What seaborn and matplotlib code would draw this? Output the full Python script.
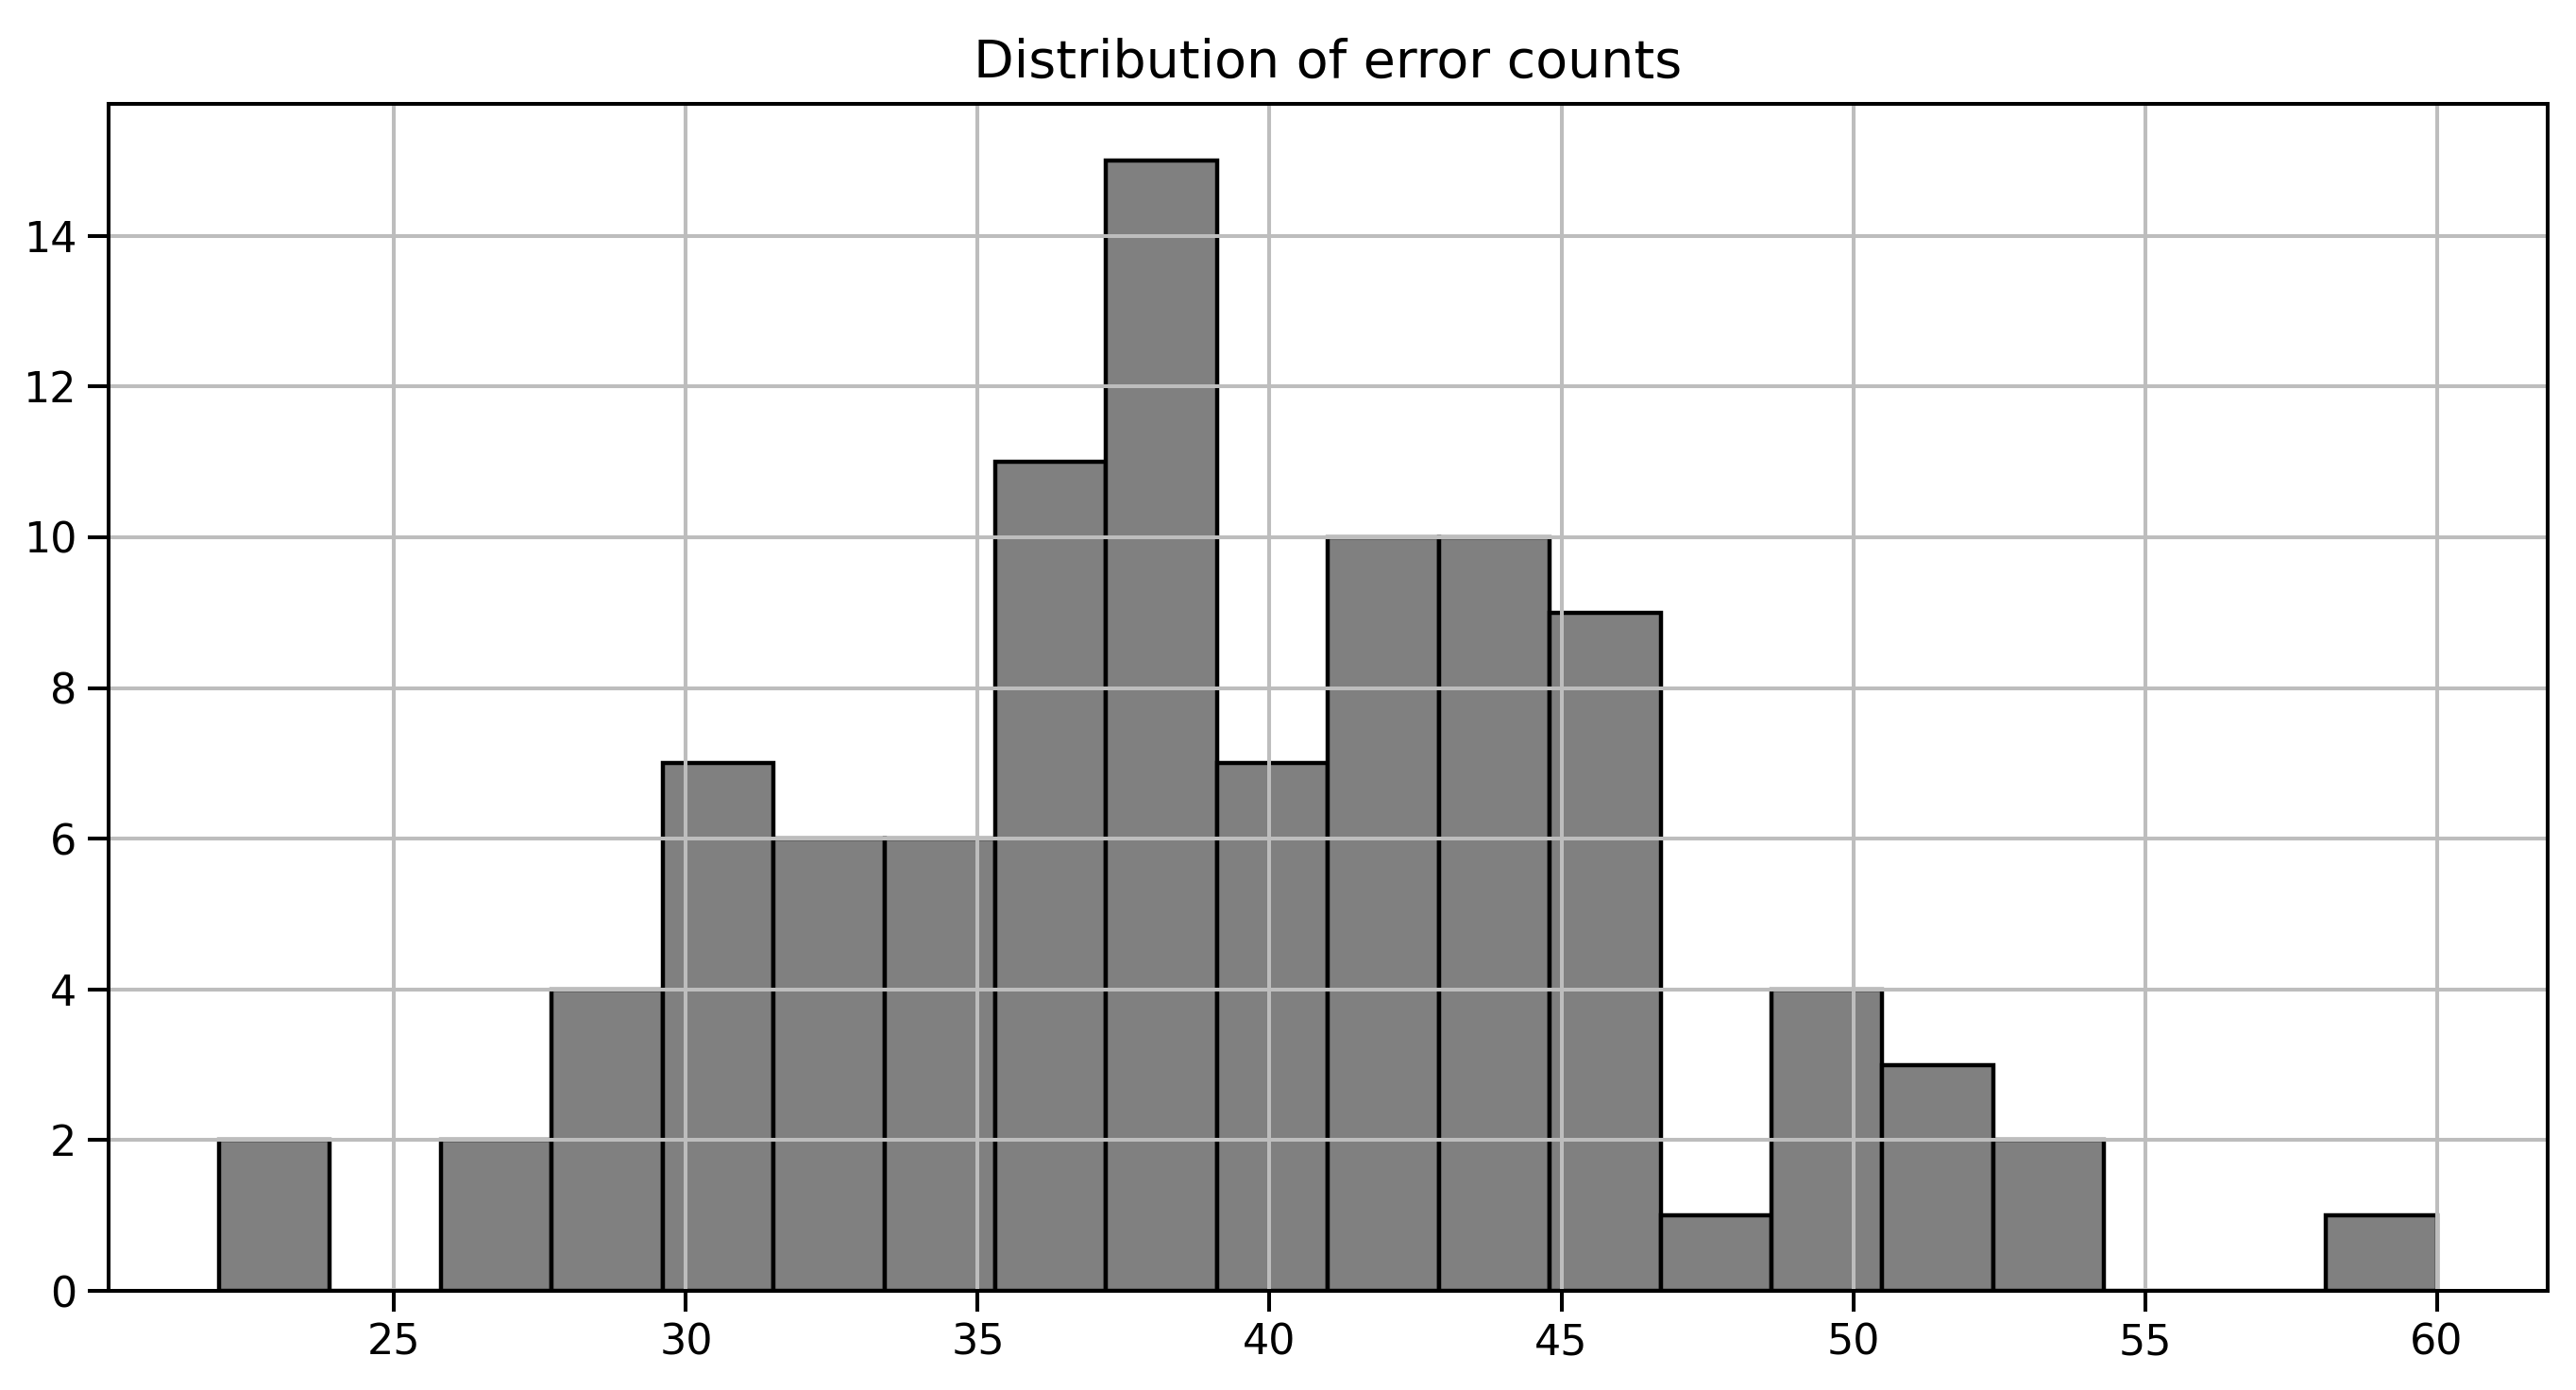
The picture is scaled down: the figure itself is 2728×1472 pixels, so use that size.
#!/usr/bin/env python3

import numpy as np
import pandas as pd
import matplotlib
matplotlib.use('Agg')
import matplotlib.pyplot as plt
import seaborn as sns

# histogram: 20 bins between 22 and 60
bin_lo = 22
bin_hi = 60
n_bins = 20
counts = [2, 0, 2, 4, 7, 6, 6, 11, 15, 7, 10, 10, 9, 1, 4, 3, 2, 0, 0, 1]
x_ticks = [25, 30, 35, 40, 45, 50, 55, 60]
y_ticks = [0, 2, 4, 6, 8, 10, 12, 14]
title = 'Distribution of error counts'

edges = np.linspace(bin_lo, bin_hi, n_bins + 1)
centers = (edges[:-1] + edges[1:]) / 2
df = pd.DataFrame({'errors': centers, 'n': counts})

lw = 2.9
plt.rcParams['font.family'] = ['DejaVu Sans']
plt.rcParams['axes.linewidth'] = lw

fig = plt.figure(figsize=(27.28, 14.72), dpi=100)
ax = fig.add_axes([0.042, 0.0713, 0.947, 0.854])

sns.histplot(data=df, x='errors', weights='n', bins=list(edges), color='#808080',
             edgecolor='black', linewidth=3.2, alpha=1, ax=ax)

ax.grid(True, color='#bdbdbd', linewidth=lw)
ax.set_xticks(x_ticks)
ax.set_yticks(y_ticks)
ax.tick_params(labelsize=32, length=16, width=lw, pad=8)
ax.set_xlabel('')
ax.set_ylabel('')
ax.set_title(title, fontsize=40, pad=20)

fig.savefig('out.png', dpi=100)
